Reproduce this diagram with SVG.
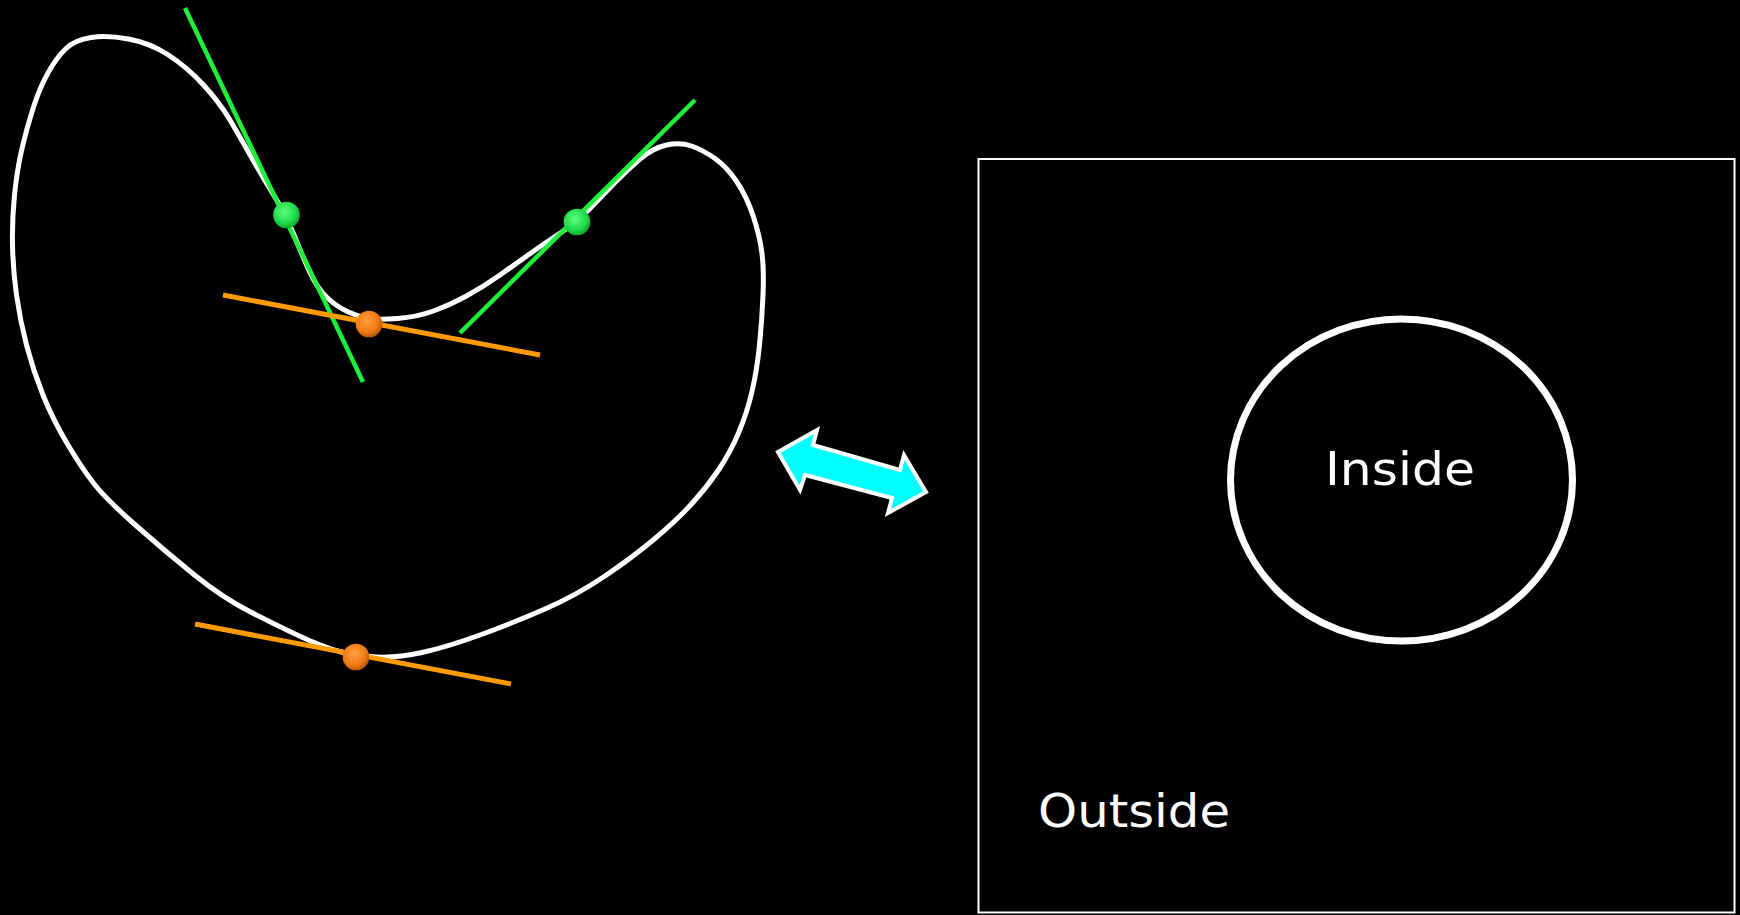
<svg xmlns="http://www.w3.org/2000/svg" width="1740" height="915" viewBox="0 0 1740 915">
<style>
.curve{fill:none;stroke:#ffffff;stroke-width:5;stroke-linejoin:round}
.gline{stroke:#1ef03c;stroke-width:4.5;stroke-linecap:butt}
.oline{stroke:#ff9a00;stroke-width:5;stroke-linecap:butt}
.lbl{fill:#ffffff;font-family:"Comic Sans MS","DejaVu Sans",sans-serif;font-size:46px}
</style>
<defs>
<radialGradient id="gg" cx="0.42" cy="0.38" r="0.62">
<stop offset="0" stop-color="#5dff7a"/>
<stop offset="0.7" stop-color="#1fd94a"/>
<stop offset="1" stop-color="#12a834"/>
</radialGradient>
<radialGradient id="og" cx="0.42" cy="0.38" r="0.62">
<stop offset="0" stop-color="#ffa040"/>
<stop offset="0.7" stop-color="#f07a12"/>
<stop offset="1" stop-color="#b85a0c"/>
</radialGradient>
</defs>
<rect x="0" y="0" width="1740" height="915" fill="#000000"/>
<g id="curve-shape">
<path class="curve" d="M91,37.5 Q107,35 128.5,39 Q150,43 168.5,55 Q187,67 203.5,85 Q220,103 230,120 Q240,137 251,156.5 Q262,176 274,195.5 Q286,215 294,235 Q302,255 309.5,271.5 Q317,288 327,297.5 Q337,307 348.5,312 Q360,317 369,318.5 Q378,320 397.5,318.5 Q417,317 433.5,311 Q450,305 466.5,296 Q483,287 500,275 Q517,263 531,253 Q545,243 561,232.5 Q577,222 589.5,209 Q602,196 614.5,183 Q627,170 640,159 Q653,148 666.5,145 Q680,142 691.5,146 Q703,150 715,158.5 Q727,167 737,182 Q747,197 753.5,217 Q760,237 762,253.5 Q764,270 763,295 Q762,320 759.5,345 Q757,370 752,391.5 Q747,413 738.5,433 Q730,453 718.5,470 Q707,487 692,503.5 Q677,520 655,538.5 Q633,557 605,576 Q577,595 545,609 Q513,623 480,635 Q447,647 422,652.5 Q397,658 376.5,657 Q356,656 339.5,651.5 Q323,647 301.5,637 Q280,627 251.5,612.5 Q223,598 194.5,575 Q166,552 136.5,526 Q107,500 95,485 Q83,470 68,445 Q53,420 43,395 Q33,370 26.5,345 Q20,320 16.5,295 Q13,270 12.5,245 Q12,220 14.5,195 Q17,170 22,148.5 Q27,127 33.5,107 Q40,87 48.5,72 Q57,57 66,48.5 Q75,40 91,37.5 Z"/>
</g>
<g id="tangents">
<line class="gline" x1="185" y1="8" x2="363" y2="382"/>
<line class="gline" x1="695" y1="100" x2="460" y2="333"/>
<line class="oline" x1="223" y1="295" x2="540" y2="355"/>
<line class="oline" x1="195" y1="624" x2="511" y2="684"/>
</g>
<g id="point-green-1"><circle cx="286.5" cy="215" r="13.3" fill="url(#gg)"/></g>
<g id="point-green-2"><circle cx="577" cy="222" r="13.3" fill="url(#gg)"/></g>
<g id="point-orange-1"><circle cx="369" cy="324" r="13.3" fill="url(#og)"/></g>
<g id="point-orange-2"><circle cx="356" cy="657" r="13.3" fill="url(#og)"/></g>
<g id="double-arrow">
<polygon points="778,452 817,430 813,445 900,470 904,455 926,492 888,513 892,498 805,475 800,490" fill="#00ffff" stroke="#ffffff" stroke-width="4" stroke-linejoin="miter"/>
</g>
<g id="plane">
<rect x="978.5" y="159" width="756" height="753.5" fill="none" stroke="#ffffff" stroke-width="2"/>
</g>
<g id="circle-region">
<ellipse cx="1401.5" cy="480" rx="171" ry="161" fill="none" stroke="#ffffff" stroke-width="7"/>
</g>
<g id="label-inside"><text class="lbl" x="1325" y="485" textLength="150" lengthAdjust="spacingAndGlyphs">Inside</text></g>
<g id="label-outside"><text class="lbl" x="1038" y="827" textLength="192" lengthAdjust="spacingAndGlyphs">Outside</text></g>
</svg>
